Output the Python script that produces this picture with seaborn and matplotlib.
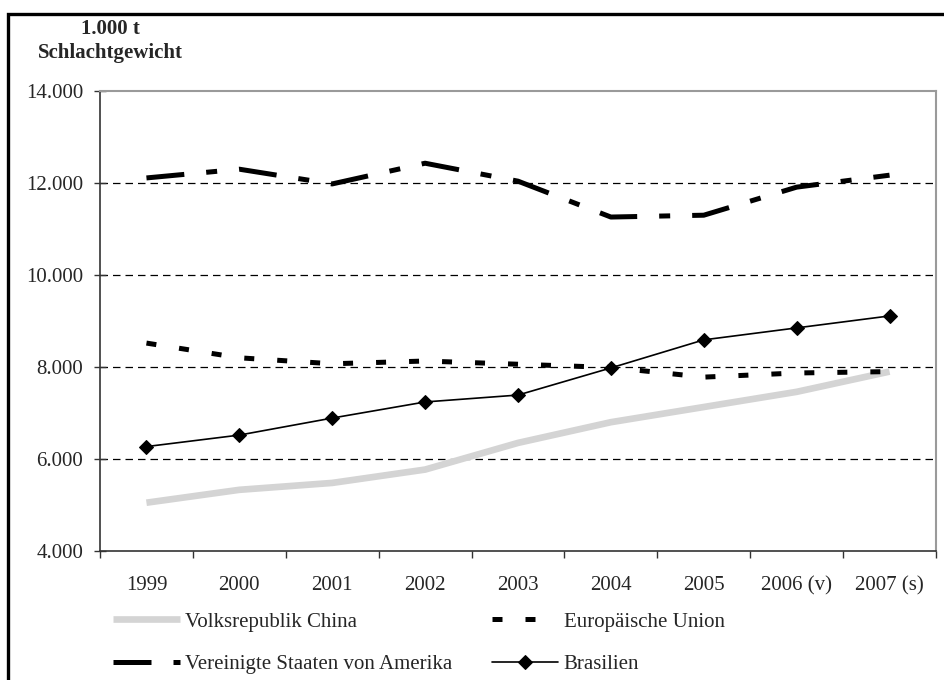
import matplotlib
matplotlib.use("Agg")
import matplotlib.pyplot as plt
import seaborn as sns
import pandas as pd
import numpy as np
from matplotlib.patches import Rectangle
from matplotlib.ticker import FixedLocator, FuncFormatter

years = ["1999", "2000", "2001", "2002", "2003", "2004", "2005", "2006 (v)", "2007 (s)"]
china = [5050, 5330, 5480, 5770, 6350, 6800, 7130, 7460, 7900]
eu = [8520, 8200, 8070, 8130, 8060, 7990, 7780, 7870, 7900]
usa = [12110, 12300, 11980, 12430, 12040, 11260, 11300, 11910, 12170]
brazil = [6270, 6520, 6890, 7240, 7390, 7980, 8590, 8850, 9110]
series_names = ["Volksrepublik China", "Europäische Union",
                "Vereinigte Staaten von Amerika", "Brasilien"]
y_ticks = [4000, 6000, 8000, 10000, 12000, 14000]

sns.set_theme(style="white")
plt.rcParams["font.family"] = ["Liberation Serif", "DejaVu Serif"]
plt.rcParams["font.size"] = 15

fig = plt.figure(figsize=(9.44, 6.80), dpi=100)
ax = fig.add_axes([100/944, 1-551/680, 836/944, 460/680])

x = np.arange(len(years))
df = pd.DataFrame({"x": x, "china": china, "eu": eu, "usa": usa, "brazil": brazil})

sns.lineplot(data=df, x="x", y="china", ax=ax, color="#d4d4d4", lw=4.8,
             label=series_names[0], solid_capstyle="butt")
sns.lineplot(data=df, x="x", y="eu", ax=ax, color="black", lw=3.6,
             label=series_names[1])
sns.lineplot(data=df, x="x", y="usa", ax=ax, color="black", lw=3.6,
             label=series_names[2])
sns.lineplot(data=df, x="x", y="brazil", ax=ax, color="black", lw=1.2,
             marker="D", markersize=7, markeredgecolor="black",
             label=series_names[3])
lines = ax.get_lines()
lines[1].set_dashes([2.0, 4.6])
lines[1].set_dash_capstyle("butt")
lines[2].set_dashes([7.6, 4.4, 2.2, 4.4])
lines[2].set_dash_capstyle("butt")

ax.set_xlim(-0.5, len(years) - 0.5)
ax.set_ylim(4000, 14000)
ax.yaxis.set_major_locator(FixedLocator(y_ticks))
ax.yaxis.set_major_formatter(FuncFormatter(lambda v, p: f"{int(v):,}".replace(",", ".")))
ax.tick_params(axis="y", which="major", direction="inout", length=8, width=1,
               color="#333333", pad=8, labelsize=15, left=True)

ax.xaxis.set_major_locator(FixedLocator(np.arange(-0.5, len(years), 1.0)))
ax.xaxis.set_major_formatter(FuncFormatter(lambda v, p: ""))
ax.xaxis.set_minor_locator(FixedLocator(x))
ax.set_xticklabels(years, minor=True)
ax.tick_params(axis="x", which="major", direction="out", length=5, width=1,
               color="#333333", bottom=True)
ax.tick_params(axis="x", which="minor", length=0, pad=18, labelsize=15)
ax.set_xlabel("")
ax.set_ylabel("")

for yv in y_ticks[1:-1]:
    ax.axhline(yv, color="black", lw=0.9, ls=(0, (6, 4)), zorder=0.5)

for s in ["top", "right"]:
    ax.spines[s].set_color("#9a9a9a")
    ax.spines[s].set_linewidth(1.5)
for s in ["left", "bottom"]:
    ax.spines[s].set_color("#333333")
    ax.spines[s].set_linewidth(1.2)

ax.get_legend().remove()
hl = ax.get_lines()[:4]
order = [0, 2, 1, 3]
fig.legend([hl[i] for i in order], [series_names[i] for i in order], ncol=2,
           loc="upper left", bbox_to_anchor=(113/944, 1-612/680), frameon=False,
           borderpad=0, borderaxespad=0, handlelength=3.2, handletextpad=0.25,
           labelspacing=1.1, columnspacing=1.9, fontsize=15)

fig.text(110/944, 1-41/680, "1.000 t\nSchlachtgewicht", ha="center", va="center",
         fontweight="bold", fontsize=15, linespacing=1.25)

fig.add_artist(Rectangle((8/944, -0.1), 1.2, 1.1 - 14/680, transform=fig.transFigure,
                         fill=False, lw=2.4, edgecolor="black", clip_on=False))

fig.savefig("out.png", dpi=100)
